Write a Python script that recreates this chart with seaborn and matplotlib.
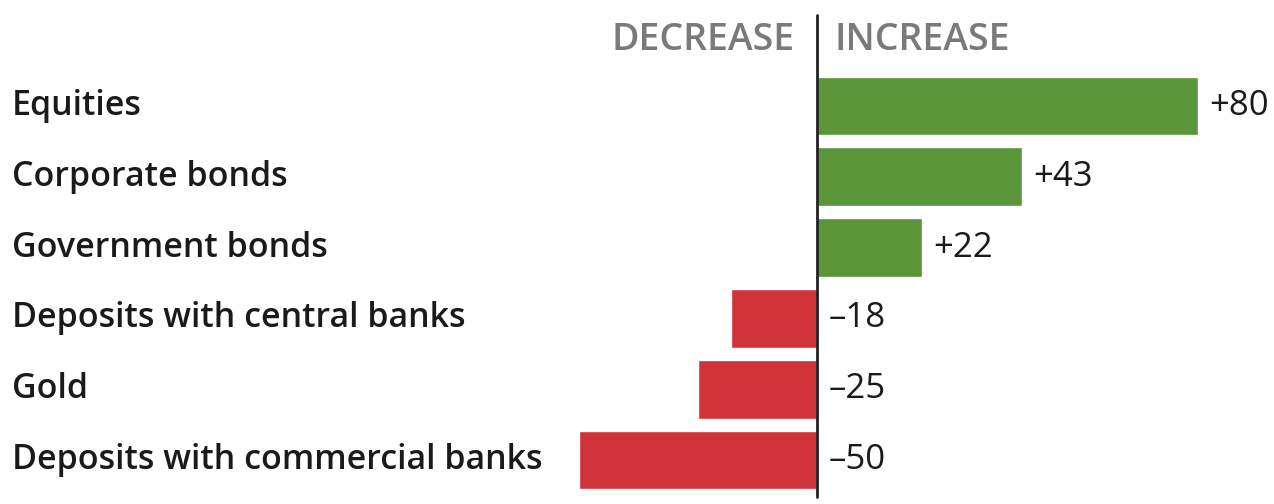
import matplotlib
matplotlib.use("Agg")
import matplotlib.pyplot as plt
import seaborn as sns
import pandas as pd

categories = ["Equities", "Corporate bonds", "Government bonds",
              "Deposits with central banks", "Gold", "Deposits with commercial banks"]
values = [80, 43, 22, -18, -25, -50]
value_labels = ["+80", "+43", "+22", "\u201318", "\u201325", "\u201350"]
header_left = "DECREASE"
header_right = "INCREASE"

GREEN = "#5b9539"
RED = "#d1333a"

sns.set_theme(style="white")
plt.rcParams['font.family'] = ['Open Sans', 'DejaVu Sans']

df = pd.DataFrame({"cat": categories, "val": values})
df["sign"] = ["pos" if v > 0 else "neg" for v in values]

W, H = 1274, 504
fig = plt.figure(figsize=(W / 100, H / 100), dpi=100)
ax = fig.add_axes([0, 0, 1, 1])

sns.barplot(data=df, y="cat", x="val", hue="sign", orient="h",
            palette={"pos": GREEN, "neg": RED}, width=0.83, dodge=False,
            legend=False, ax=ax, saturation=1)

# pixel mapping: zero at x=817, 4.76 px per unit
ppu = 4.76
x0 = 817
ax.set_xlim(-x0 / ppu, (W - x0) / ppu)
yc0, dy = 106, 70.8
ax.set_ylim((H - yc0) / dy, -yc0 / dy)

ax.axvline(0, ymin=(H - 497) / H, ymax=(H - 15) / H, color="#222222", lw=2)

for i, (v, lab, cat) in enumerate(zip(values, value_labels, categories)):
    xt = v + 2.4 if v > 0 else 2.4
    ax.text(xt, i, lab, va="center", ha="left", fontsize=25, color="#1a1a1a")
    ax.text(12 / ppu - x0 / ppu, i, cat, va="center", ha="left", fontsize=24.5,
            fontweight="semibold", color="#1a1a1a")

ax.text(-4.6, (40 - yc0) / dy, header_left, ha="right", va="center",
        fontsize=27, fontweight="semibold", color="#7a7a7a")
ax.text(3.6, (40 - yc0) / dy, header_right, ha="left", va="center",
        fontsize=27, fontweight="semibold", color="#7a7a7a")

ax.set_axis_off()
fig.savefig("out.png", dpi=100, facecolor="white")
